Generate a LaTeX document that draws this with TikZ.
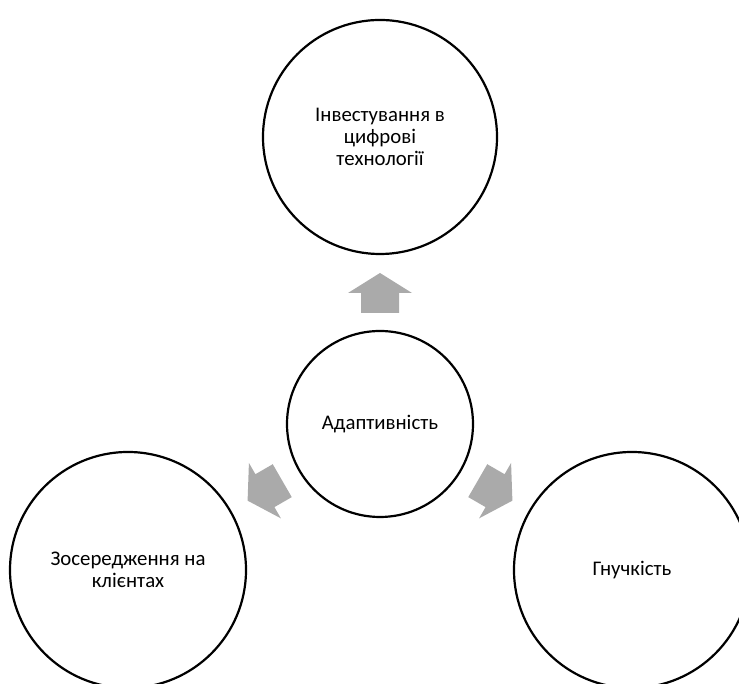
\documentclass[tikz,border=0pt]{standalone}
\usepackage{fontspec}
\setmainfont{Carlito}
\usetikzlibrary{calc}
\definecolor{arrowgray}{RGB}{170,170,170}
\begin{document}
\begin{tikzpicture}[x=1pt,y=1pt,
  bubble/.style={circle, draw=black, line width=2.2pt, align=center,
    inner sep=0pt, font=\fontsize{20.8}{22}\selectfont},
  pics/blockarrow/.style={code={
    \fill[arrowgray] (-20,-19) -- (0,-19) -- (0,-32) -- (20,0)
      -- (0,32) -- (0,19) -- (-20,19) -- cycle;}}]
\useasboundingbox (0,0) rectangle (739,684);

% hub and the three surrounding circles
\node[bubble, minimum size=186] (hub) at (380,260) {Адаптивність};
\node[bubble, minimum size=234] (top) at (380,547)
  {Інвестування в\\цифрові\\технології};
\node[bubble, minimum size=236] (left) at (128,114)
  {Зосередження на\\клієнтах};
\node[bubble, minimum size=236] (right) at (632,114) {Гнучкість};

% block arrows pointing outward from the hub
\pic[rotate=90]  at ($(hub)!131pt!(top)$)   {blockarrow};
\pic[rotate=210] at ($(hub)!133pt!(left)$)  {blockarrow};
\pic[rotate=330] at ($(hub)!133pt!(right)$) {blockarrow};
\end{tikzpicture}
\end{document}
